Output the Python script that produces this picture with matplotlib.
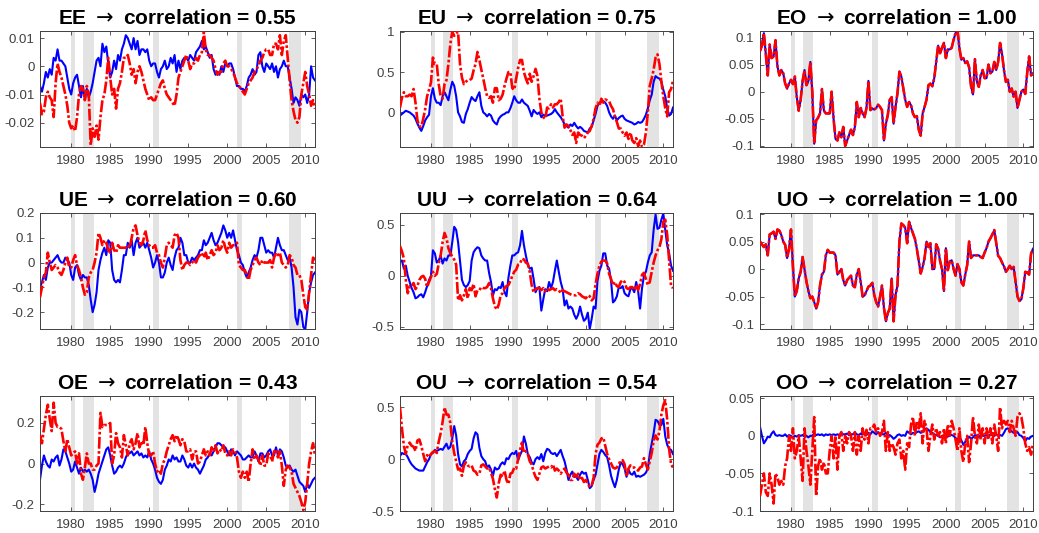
import numpy as np
import matplotlib
matplotlib.use('Agg')
import matplotlib.pyplot as plt

start_year = 1976.0

ee_blue = [
    -0.007, -0.009, -0.006, -0.002,
    -0.004, -0.001, -0.003, 0.003,
    0.002, 0.006, 0.002, 0.002,
    0.001, 0.000, -0.004, -0.008,
    -0.010, -0.006, -0.004, -0.003,
    -0.007, -0.011, -0.007, -0.012,
    -0.008, -0.011, -0.009, -0.006,
    -0.002, 0.002, 0.003, 0.000,
    0.008, 0.005, 0.007, 0.001,
    -0.004, -0.002, 0.002, -0.001,
    0.004, 0.002, 0.006, 0.008,
    0.011, 0.010, 0.008, 0.006,
    0.010, 0.006, 0.009, 0.004,
    0.006, 0.006, 0.005, 0.006,
    0.002, 0.000, 0.001, 0.001,
    -0.002, -0.004, -0.001, 0.000,
    0.002, -0.001, 0.000, 0.003,
    0.001, 0.004, -0.002, 0.002,
    -0.001, 0.002, 0.003, 0.003,
    0.002, 0.004, 0.003, 0.002,
    0.005, 0.006, 0.007, 0.009,
    0.006, 0.007, 0.005, 0.003,
    0.004, -0.001, -0.003, -0.002,
    -0.003, 0.000, -0.002, 0.001,
    0.000, 0.001, 0.001, -0.001,
    -0.004, -0.007, -0.007, -0.008,
    -0.008, -0.009, -0.007, -0.004,
    -0.003, -0.001, -0.003, -0.002,
    0.004, 0.005, 0.000, -0.002,
    0.001, 0.000, -0.001, 0.001,
    -0.002, 0.000, -0.004, -0.001,
    0.000, 0.002, 0.000, 0.000,
    -0.004, -0.008, -0.013, -0.011,
    -0.012, -0.014, -0.010, -0.011,
    -0.010, -0.013, -0.010, 0.000,
    -0.004, -0.005,
]
ee_red = [
    -0.013, -0.017, -0.016, -0.011,
    -0.009, -0.011, -0.012, -0.018,
    -0.006, 0.001, -0.002, -0.004,
    -0.007, -0.010, -0.014, -0.020,
    -0.022, -0.021, -0.023, -0.018,
    -0.010, -0.007, -0.008, -0.012,
    -0.007, -0.010, -0.028, -0.022,
    -0.025, -0.021, -0.026, -0.018,
    -0.012, -0.010, -0.005, 0.003,
    -0.004, -0.010, -0.008, -0.015,
    -0.008, -0.006, -0.002, 0.003,
    0.003, 0.004, 0.001, -0.003,
    -0.001, -0.006, -0.002, 0.000,
    -0.002, -0.005, -0.008, -0.010,
    -0.012, -0.011, -0.012, -0.012,
    -0.010, -0.008, -0.006, -0.005,
    -0.008, -0.010, -0.011, -0.012,
    -0.013, -0.014, -0.010, -0.004,
    -0.002, 0.000, 0.002, 0.004,
    0.002, -0.001, 0.001, 0.001,
    0.003, 0.002, 0.004, 0.005,
    0.012, 0.006, 0.004, 0.004,
    0.003, 0.002, -0.001, -0.003,
    -0.002, -0.002, 0.001, 0.002,
    0.000, 0.000, -0.001, -0.002,
    -0.004, -0.006, -0.007, -0.008,
    -0.009, -0.010, -0.008, -0.006,
    -0.005, -0.004, -0.002, -0.001,
    0.000, 0.002, 0.003, 0.005,
    0.006, 0.006, 0.004, 0.004,
    0.008, 0.008, 0.006, 0.011,
    0.004, 0.009, 0.011, 0.003,
    -0.005, -0.012, -0.016, -0.019,
    -0.020, -0.018, -0.010, -0.006,
    -0.002, -0.007, -0.010, -0.014,
    -0.012, -0.015,
]

eu_blue = [
    -0.04, -0.02, 0.0, 0.02,
    0.01, 0.0, -0.02, -0.04,
    -0.08, -0.14, -0.19, -0.23,
    -0.17, -0.1, -0.06, -0.03,
    0.2, 0.3, 0.17, 0.12,
    0.12, 0.09, 0.2, 0.25,
    0.2, 0.15, 0.28, 0.38,
    0.33, 0.2, 0.0, -0.05,
    -0.12, -0.13, -0.02, 0.04,
    0.12, 0.19, 0.16, 0.14,
    0.2, 0.25, 0.08, 0.0,
    -0.02, -0.05, -0.02, -0.04,
    -0.1, -0.13, -0.15, -0.08,
    -0.05, -0.03, -0.02, 0.0,
    0.0, 0.05, 0.12, 0.2,
    0.15, 0.12, 0.12, 0.16,
    0.12, 0.1, 0.08, 0.02,
    -0.05, 0.03, 0.0, -0.02,
    0.0, -0.06, -0.03, -0.04,
    -0.04, -0.03, -0.02, 0.0,
    0.04, 0.0, -0.03, -0.06,
    -0.1, -0.15, -0.17, -0.19,
    -0.15, -0.17, -0.13, -0.17,
    -0.2, -0.18, -0.2, -0.23,
    -0.24, -0.25, -0.2, -0.18,
    -0.1, -0.02, 0.08, 0.12,
    0.13, 0.14, 0.12, 0.08,
    0.0, -0.05, -0.08, -0.04,
    -0.1, -0.07, -0.05, -0.04,
    -0.08, -0.1, -0.11, -0.12,
    -0.13, -0.15, -0.14, -0.12,
    -0.13, -0.12, -0.08, -0.03,
    0.05, 0.15, 0.22, 0.38,
    0.45, 0.43, 0.42, 0.38,
    0.28, 0.2, 0.05, -0.04,
    -0.02, 0.06,
]
eu_red = [
    0.06, 0.18, 0.25, 0.2,
    0.2, 0.22, 0.2, 0.29,
    0.12, -0.1, -0.17, -0.18,
    -0.08, 0.04, 0.2, 0.28,
    0.37, 0.68, 0.6, 0.6,
    0.35, 0.2, 0.17, 0.35,
    0.4, 0.6, 0.85, 1.0,
    0.95, 0.98, 1.0, 0.6,
    0.43, 0.35, 0.38, 0.4,
    0.4, 0.42, 0.52, 0.6,
    0.75, 0.65, 0.53, 0.42,
    0.3, 0.2, 0.18, 0.2,
    0.12, 0.3, 0.3, 0.15,
    0.17, 0.22, 0.33, 0.42,
    0.5, 0.5, 0.3, 0.28,
    0.42, 0.55, 0.65, 0.65,
    0.5, 0.42, 0.36, 0.48,
    0.38, 0.45, 0.54, 0.45,
    0.17, 0.0, -0.06, -0.08,
    0.06, 0.05, 0.1, 0.06,
    0.1, 0.1, 0.13, 0.17,
    -0.05, -0.19, -0.15, -0.17,
    -0.22, -0.28, -0.25, -0.38,
    -0.25, -0.28, -0.29, -0.32,
    -0.29, -0.25, -0.23, -0.17,
    -0.08, 0.05, 0.12, 0.08,
    0.17, 0.12, 0.16, 0.15,
    0.14, 0.08, 0.04, -0.05,
    -0.12, -0.2, -0.2, -0.25,
    -0.29, -0.25, -0.33, -0.25,
    -0.35, -0.38, -0.32, -0.42,
    -0.35, -0.43, -0.4, -0.25,
    0.0, 0.33, 0.42, 0.53,
    0.68, 0.72, 0.6, 0.38,
    0.2, 0.05, -0.05, 0.25,
    0.29, 0.39,
]

eo_series = [
    0.075, 0.085, 0.108, 0.07,
    0.03, 0.087, 0.062, 0.065,
    0.095, 0.047, 0.03, 0.04,
    0.034, 0.015, 0.006, 0.015,
    0.022, 0.014, 0.028, -0.01,
    -0.035, -0.015, 0.02, 0.04,
    0.012, 0.02, 0.055, 0.0,
    -0.096, -0.053, -0.048, -0.04,
    0.005, -0.035, -0.04, -0.04,
    -0.04, 0.0, -0.05, -0.087,
    -0.09, -0.075, -0.084, -0.065,
    -0.1, -0.09, -0.08, -0.07,
    -0.08, -0.065, -0.019, -0.047,
    -0.03, -0.04, -0.047, -0.03,
    0.02, -0.034, -0.031, -0.033,
    -0.03, -0.024, -0.028, -0.034,
    -0.09, -0.06, -0.043, -0.015,
    -0.01, -0.059, -0.028, -0.003,
    0.037, 0.028, 0.006, -0.015,
    -0.028, -0.019, -0.025, -0.04,
    -0.047, -0.045, -0.07, -0.081,
    -0.04, -0.028, -0.015, 0.012,
    0.015, 0.01, 0.025, 0.055,
    0.085, 0.071, 0.081, 0.09,
    0.062, 0.078, 0.078, 0.081,
    0.096, 0.108, 0.114, 0.08,
    0.059, 0.062, 0.053, 0.056,
    0.045, 0.01, -0.005, 0.06,
    0.019, 0.009, 0.03, 0.04,
    0.025, 0.025, 0.05, 0.034,
    0.037, 0.055, 0.04, 0.055,
    0.09, 0.07, 0.04, 0.018,
    0.022, 0.0, 0.006, -0.009,
    0.0, -0.03, -0.015, 0.0,
    0.004, -0.004, 0.035, 0.065,
    0.03, 0.034,
]

ue_blue = [
    -0.1, -0.08, -0.05, -0.07,
    -0.02, 0.0, 0.0, 0.01,
    0.02, 0.03, 0.01, 0.0,
    0.0, 0.02, 0.01, 0.0,
    -0.05, -0.07, -0.02, -0.01,
    -0.05, -0.07, -0.05, -0.06,
    -0.06, -0.09, -0.15, -0.2,
    -0.17, -0.12, -0.03, 0.01,
    0.04, 0.06, 0.03, 0.09,
    0.08, -0.03, -0.07, -0.08,
    -0.07, -0.08, -0.03, 0.03,
    0.03, 0.08, 0.06, 0.09,
    0.03, 0.08, 0.1, 0.06,
    0.07, 0.08, 0.06, 0.08,
    0.05, 0.02, -0.02, 0.0,
    0.03, 0.0, -0.06, -0.06,
    -0.04, 0.0, 0.02, -0.01,
    -0.03, 0.02, 0.05, 0.06,
    0.1, 0.08, 0.03, 0.03,
    0.0, 0.0, 0.02, 0.01,
    0.02, 0.03, 0.05, 0.05,
    0.09, 0.07, 0.08, 0.1,
    0.12, 0.09, 0.07, 0.08,
    0.1, 0.12, 0.15, 0.13,
    0.1, 0.12, 0.1, 0.13,
    0.09, 0.05, 0.03, 0.0,
    -0.01, -0.04, -0.06, -0.04,
    -0.02, 0.01, 0.03, 0.02,
    0.05, 0.1, 0.1, 0.07,
    0.04, 0.05, 0.04, 0.04,
    0.02, 0.06, 0.1, 0.07,
    0.05, 0.05, 0.03, 0.01,
    0.02, -0.02, -0.1, -0.22,
    -0.25, -0.19, -0.2, -0.26,
    -0.27, -0.2, -0.12, -0.08,
    -0.05, -0.04,
]
ue_red = [
    -0.14, -0.1, -0.06, -0.04,
    0.04, 0.0, -0.03, -0.02,
    -0.01, -0.02, -0.04, -0.05,
    -0.03, 0.0, 0.02, -0.02,
    -0.02, 0.01, 0.03, -0.01,
    -0.03, -0.06, -0.1, -0.13,
    -0.12, -0.06, -0.04, -0.03,
    0.0, 0.04, 0.12, 0.1,
    0.07, 0.09, 0.08, 0.05,
    0.04, 0.08, 0.05, 0.04,
    0.07, 0.06, 0.06, 0.06,
    0.06, 0.07, 0.06, 0.1,
    0.14, 0.15, 0.11, 0.08,
    0.07, 0.09, 0.13, 0.09,
    0.07, 0.06, 0.06, 0.07,
    0.04, 0.03, 0.0, -0.02,
    0.02, 0.07, 0.08, 0.07,
    0.06, 0.11, 0.12, 0.1,
    0.01, -0.03, -0.01, 0.0,
    0.0, -0.01, 0.0, 0.01,
    0.0, 0.02, 0.03, 0.04,
    0.02, 0.04, 0.01, 0.03,
    0.05, 0.03, 0.04, 0.07,
    0.05, 0.06, 0.09, 0.06,
    0.04, 0.08, 0.06, 0.07,
    0.07, 0.08, -0.01, -0.02,
    -0.03, -0.03, -0.05, -0.07,
    -0.03, -0.01, 0.01, 0.02,
    0.0, -0.01, 0.01, 0.0,
    0.0, 0.0, 0.01, -0.02,
    0.02, 0.04, 0.03, 0.04,
    0.0, -0.01, -0.02, -0.01,
    0.03, 0.02, -0.01, -0.02,
    -0.05, -0.05, -0.07, -0.13,
    -0.18, -0.19, -0.12, -0.05,
    0.02, 0.01,
]

uu_blue = [
    0.14, 0.15, 0.07, 0.1,
    0.0, -0.06, -0.12, -0.16,
    -0.22, -0.21, -0.19, -0.18,
    -0.21, -0.16, -0.1, -0.04,
    0.0, 0.25, 0.22, 0.13,
    0.15, 0.2, 0.12, 0.17,
    0.15, 0.2, 0.2, 0.33,
    0.48, 0.45, 0.33, 0.15,
    -0.04, -0.09, -0.11, -0.09,
    -0.05, 0.15, 0.23, 0.26,
    0.28, 0.27, 0.2, 0.17,
    0.15, 0.15, 0.03, -0.06,
    -0.19, -0.13, -0.14, -0.11,
    -0.12, -0.06, -0.16, -0.2,
    -0.02, 0.1, 0.2, 0.2,
    0.22, 0.23, 0.3, 0.44,
    0.3, 0.2, 0.11, 0.07,
    0.08, -0.03, -0.16, -0.12,
    -0.11, -0.34, -0.23, -0.13,
    -0.15, -0.06, -0.12, -0.06,
    0.05, 0.15, 0.04, -0.06,
    -0.13, -0.29, -0.24, -0.32,
    -0.3, -0.32, -0.38, -0.42,
    -0.38, -0.3, -0.38, -0.44,
    -0.42, -0.36, -0.52, -0.42,
    -0.3, -0.32, -0.05, 0.05,
    0.1, 0.22, 0.22, 0.1,
    0.07, -0.05, -0.26, -0.24,
    -0.2, -0.11, -0.12, -0.1,
    -0.17, -0.19, -0.2, -0.13,
    -0.12, -0.16, -0.06, -0.15,
    -0.32, -0.12, 0.0, 0.04,
    0.13, 0.2, 0.23, 0.45,
    0.6, 0.46, 0.47, 0.55,
    0.61, 0.45, 0.3, 0.22,
    0.1, 0.05,
]
uu_red = [
    0.29, 0.24, 0.17, -0.04,
    -0.17, -0.1, -0.1, -0.07,
    -0.13, -0.1, -0.04, -0.01,
    0.0, -0.03, -0.11, -0.06,
    -0.01, 0.04, 0.0, 0.02,
    0.12, 0.2, 0.33, 0.42,
    0.37, 0.27, 0.22, 0.19,
    0.16, 0.11, -0.24, -0.19,
    -0.24, -0.19, -0.13, -0.22,
    -0.12, -0.14, -0.08, -0.2,
    -0.14, -0.14, -0.11, -0.12,
    -0.12, -0.11, -0.07, -0.12,
    -0.22, -0.3, -0.33, -0.28,
    -0.19, -0.17, -0.12, -0.1,
    -0.09, -0.05, 0.0, 0.04,
    0.06, 0.11, 0.12, 0.17,
    0.16, 0.13, 0.12, 0.04,
    -0.09, -0.16, -0.13, -0.12,
    -0.12, -0.14, -0.12, -0.15,
    -0.12, -0.14, -0.13, -0.12,
    -0.14, -0.13, -0.14, -0.17,
    -0.14, -0.15, -0.16, -0.17,
    -0.18, -0.19, -0.19, -0.19,
    -0.17, -0.18, -0.2, -0.21,
    -0.22, -0.19, -0.2, -0.24,
    -0.22, -0.08, 0.02, 0.1,
    0.14, 0.15, 0.15, 0.12,
    0.02, -0.03, -0.09, -0.06,
    -0.1, -0.11, -0.06, -0.04,
    -0.06, -0.12, -0.13, -0.11,
    -0.11, -0.14, -0.09, -0.14,
    -0.08, 0.01, 0.03, -0.03,
    -0.09, -0.06, 0.04, 0.13,
    0.2, 0.25, 0.28, 0.36,
    0.53, 0.55, 0.4, 0.15,
    -0.1, -0.12,
]

uo_series = [
    0.05, 0.045, 0.04, 0.045,
    0.025, 0.063, 0.065, 0.068,
    0.055, 0.072, 0.07, 0.062,
    0.05, 0.044, 0.02, 0.037,
    0.072, 0.005, -0.05, -0.04,
    -0.017, -0.005, 0.022, 0.0,
    -0.023, -0.04, -0.053, -0.05,
    -0.06, -0.072, -0.06, -0.03,
    -0.01, -0.005, 0.025, 0.035,
    0.03, 0.03, 0.03, 0.025,
    -0.01, -0.005, 0.0, -0.02,
    -0.03, -0.02, -0.016, -0.012,
    -0.03, -0.033, -0.01, 0.0,
    -0.023, -0.05, -0.048, -0.04,
    -0.032, -0.03, -0.025, -0.047,
    -0.06, -0.068, -0.05, -0.03,
    -0.07, -0.095, -0.08, -0.072,
    -0.017, -0.095, -0.047, -0.03,
    0.05, 0.083, 0.08, 0.075,
    0.047, 0.086, 0.075, 0.065,
    0.055, 0.037, 0.015, -0.008,
    0.004, 0.02, 0.05, 0.04,
    0.047, 0.0, 0.0, 0.045,
    0.037, 0.015, 0.0, -0.04,
    0.038, -0.002, 0.014, 0.016,
    0.0, -0.012, 0.009, 0.0,
    -0.024, -0.03, -0.01, 0.007,
    0.05, 0.02, 0.025, 0.025,
    0.025, 0.025, 0.022, 0.02,
    0.03, 0.038, 0.05, 0.056,
    0.063, 0.071, 0.048, 0.024,
    0.02, 0.012, 0.005, -0.005,
    0.0, 0.006, 0.0, 0.004,
    -0.023, -0.05, -0.058, -0.055,
    -0.035, -0.005, -0.006, -0.01,
    0.028, 0.037,
]

oe_blue = [
    -0.08, -0.01, 0.04, 0.01,
    -0.01, -0.02, 0.02, 0.01,
    0.03, 0.04, -0.01, 0.02,
    0.07, 0.06, 0.03, 0.0,
    -0.04, -0.03, 0.01, -0.02,
    -0.05, -0.02, -0.04, -0.03,
    -0.04, -0.03, -0.05, -0.08,
    -0.14, -0.1, -0.05, -0.02,
    0.01, 0.04, 0.07, 0.08,
    0.04, -0.01, -0.05, -0.04,
    -0.02, -0.01, -0.02, 0.0,
    0.03, 0.05, 0.05, 0.06,
    0.04, 0.05, 0.06, 0.04,
    0.05, 0.03, 0.04, 0.03,
    0.06, 0.02, 0.0, -0.03,
    -0.07, -0.09, -0.1, -0.08,
    -0.03, -0.01, 0.02, 0.01,
    0.04, 0.02, 0.03, 0.01,
    0.01, 0.04, 0.02, -0.01,
    -0.02, 0.0, -0.02, 0.0,
    -0.02, -0.03, -0.05, -0.03,
    -0.01, 0.02, 0.03, 0.05,
    0.04, 0.06, 0.08, 0.1,
    0.1, 0.09, 0.08, 0.08,
    0.06, 0.04, 0.07, 0.06,
    0.04, 0.06, 0.05, 0.04,
    0.02, 0.02, 0.03, 0.04,
    0.03, 0.03, 0.06, 0.04,
    0.01, 0.05, 0.05, 0.03,
    0.04, 0.06, 0.07, 0.04,
    0.04, 0.08, 0.04, 0.07,
    0.06, 0.03, -0.01, -0.02,
    -0.01, -0.03, -0.04, -0.03,
    -0.06, -0.09, -0.1, -0.11,
    -0.14, -0.1, -0.12, -0.1,
    -0.08, -0.07,
]
oe_red = [
    0.14, 0.1, 0.17, 0.24,
    0.29, 0.22, 0.16, 0.3,
    0.2, 0.18, 0.18, 0.17,
    0.11, 0.06, 0.12, 0.08,
    0.04, 0.05, 0.06, 0.0,
    0.05, -0.05, -0.08, -0.02,
    0.05, 0.0, 0.0, -0.03,
    -0.03, -0.01, 0.0, 0.25,
    0.18, 0.19, 0.19, 0.19,
    0.2, 0.0, 0.04, 0.15,
    0.1, 0.08, 0.03, 0.14,
    0.09, 0.04, 0.1, 0.12,
    0.07, 0.1, 0.15, 0.08,
    0.11, 0.09, 0.18, 0.1,
    0.04, 0.04, 0.06, 0.0,
    -0.04, -0.03, -0.05, 0.0,
    0.02, 0.06, 0.09, 0.12,
    0.14, 0.11, 0.14, 0.12,
    0.09, 0.12, 0.11, 0.06,
    0.06, 0.07, 0.02, 0.06,
    0.06, 0.0, 0.01, 0.04,
    0.07, 0.04, 0.06, 0.04,
    0.08, 0.06, 0.09, 0.05,
    0.07, 0.06, 0.09, 0.05,
    0.04, 0.06, 0.04, 0.07,
    0.06, 0.03, -0.04, -0.07,
    -0.04, -0.07, -0.04, -0.09,
    0.0, 0.07, 0.02, 0.04,
    0.02, -0.01, 0.04, -0.01,
    -0.01, 0.05, 0.04, 0.01,
    0.06, 0.07, 0.03, 0.06,
    -0.01, -0.11, -0.03, -0.01,
    -0.02, -0.04, -0.1, -0.12,
    -0.14, -0.16, -0.19, -0.23,
    -0.19, -0.1, 0.0, 0.06,
    0.1, 0.04,
]

ou_blue = [
    0.03, 0.06, 0.05, 0.05,
    0.02, -0.02, -0.05, -0.07,
    -0.09, -0.1, -0.11, -0.11,
    -0.11, -0.07, -0.03, 0.0,
    0.05, 0.06, 0.09, 0.08,
    0.09, 0.1, 0.09, 0.12,
    0.15, 0.1, 0.12, 0.2,
    0.32, 0.23, 0.05, -0.05,
    -0.07, -0.02, 0.0, 0.05,
    0.08, 0.1, 0.2, 0.26,
    0.24, 0.11, 0.03, 0.0,
    -0.02, -0.08, -0.06, -0.1,
    -0.16, -0.08, -0.1, -0.09,
    -0.05, -0.03, -0.05, 0.01,
    0.0, 0.04, 0.06, 0.05,
    0.08, -0.01, 0.04, 0.08,
    0.22, 0.15, 0.05, 0.02,
    -0.03, -0.05, 0.0, 0.02,
    0.0, 0.05, -0.02, 0.06,
    0.1, 0.09, 0.06, 0.05,
    0.06, 0.03, 0.06, 0.09,
    0.03, -0.02, -0.1, -0.2,
    -0.15, -0.12, -0.17, -0.17,
    -0.2, -0.15, -0.12, -0.14,
    -0.13, -0.2, -0.28, -0.26,
    -0.2, -0.15, -0.05, 0.05,
    0.09, 0.07, 0.04, 0.02,
    -0.06, -0.16, -0.22, -0.27,
    -0.2, -0.1, -0.03, -0.05,
    -0.09, -0.17, -0.1, -0.14,
    -0.15, -0.12, -0.17, -0.16,
    -0.17, -0.16, -0.15, -0.13,
    -0.09, 0.05, 0.15, 0.25,
    0.38, 0.37, 0.33, 0.33,
    0.39, 0.22, 0.14, 0.1,
    0.09, 0.05,
]
ou_red = [
    0.5, 0.3, 0.13, 0.05,
    0.14, 0.16, 0.13, 0.12,
    0.08, 0.18, 0.19, 0.13,
    0.05, -0.02, 0.04, 0.02,
    0.05, 0.07, 0.08, 0.06,
    0.17, 0.25, 0.36, 0.5,
    0.43, 0.43, 0.35, 0.17,
    0.06, -0.02, -0.1, -0.09,
    -0.16, -0.06, -0.03, -0.06,
    -0.07, -0.06, -0.11, -0.12,
    -0.15, -0.14, -0.06, -0.05,
    -0.07, -0.09, -0.08, -0.13,
    -0.19, -0.29, -0.37, -0.23,
    -0.15, -0.17, -0.11, -0.2,
    -0.24, -0.14, -0.13, -0.08,
    -0.09, 0.0, 0.09, 0.16,
    0.06, 0.08, 0.05, -0.02,
    -0.05, -0.12, -0.17, -0.2,
    -0.14, -0.08, -0.07, -0.09,
    -0.08, -0.07, -0.08, -0.05,
    -0.11, -0.09, -0.11, -0.14,
    -0.11, -0.09, -0.13, -0.15,
    -0.2, -0.2, -0.14, -0.17,
    -0.14, -0.2, -0.18, -0.22,
    -0.2, -0.24, -0.27, -0.25,
    -0.18, 0.05, 0.14, 0.16,
    0.2, 0.21, 0.13, 0.05,
    0.0, -0.04, -0.08, -0.09,
    -0.08, -0.05, -0.01, -0.01,
    -0.05, -0.17, -0.09, -0.06,
    -0.08, -0.08, -0.1, -0.11,
    -0.08, -0.07, 0.01, -0.05,
    -0.1, -0.02, 0.06, 0.18,
    0.23, 0.19, 0.27, 0.43,
    0.52, 0.57, 0.38, 0.1,
    -0.05, -0.08,
]

oo_blue = [
    0.012, 0.0, -0.01, -0.006,
    -0.001, -0.002, 0.003, 0.006,
    0.001, 0.0, 0.001, 0.0,
    0.0, 0.002, -0.001, 0.001,
    0.0, -0.002, 0.0, -0.001,
    0.001, 0.0, 0.001, -0.001,
    0.0, -0.002, 0.0, 0.0,
    0.003, 0.001, 0.002, 0.001,
    0.002, 0.0, 0.002, 0.001,
    0.002, 0.001, 0.002, 0.001,
    0.002, 0.001, 0.003, 0.002,
    0.002, 0.003, 0.001, 0.002,
    0.002, 0.004, 0.002, 0.001,
    0.003, 0.002, 0.004, 0.001,
    0.004, 0.002, 0.006, 0.004,
    0.002, 0.005, 0.003, 0.002,
    0.002, 0.004, 0.0, 0.001,
    -0.001, -0.004, -0.002, 0.001,
    0.002, 0.0, 0.001, 0.0,
    0.006, 0.004, 0.002, 0.004,
    0.003, 0.005, 0.006, 0.004,
    0.005, 0.008, 0.01, 0.008,
    0.005, 0.004, 0.002, 0.001,
    0.0, -0.002, -0.001, 0.001,
    0.0, -0.001, 0.002, 0.001,
    0.0, -0.003, -0.005, -0.002,
    -0.006, -0.012, -0.008, -0.004,
    -0.001, -0.004, -0.002, 0.001,
    0.0, -0.002, 0.001, 0.0,
    0.0, 0.001, -0.001, 0.002,
    0.001, 0.0, 0.002, 0.0,
    0.001, 0.0, 0.004, 0.009,
    0.01, 0.008, 0.006, 0.004,
    0.004, 0.005, 0.001, 0.0,
    -0.003, -0.007, -0.003, -0.004,
    -0.001, 0.0,
]
oo_red = [
    -0.08, -0.065, -0.05, -0.075,
    -0.08, -0.05, -0.065, -0.09,
    -0.05, -0.055, -0.065, -0.06,
    -0.065, -0.04, -0.03, 0.0,
    -0.02, 0.01, -0.03, -0.02,
    0.0, -0.03, -0.06, 0.01,
    -0.02, -0.04, -0.065, -0.02,
    0.025, -0.08, -0.04, -0.03,
    -0.045, -0.035, -0.05, -0.05,
    -0.02, 0.0, -0.03, 0.0,
    -0.045, 0.0, 0.005, -0.02,
    0.0, -0.01, 0.005, 0.0,
    -0.02, 0.005, -0.025, 0.0,
    -0.02, 0.01, -0.005, 0.008,
    -0.01, 0.01, 0.01, 0.015,
    0.005, 0.01, 0.0, 0.005,
    0.02, -0.02, 0.005, -0.02,
    -0.01, -0.015, -0.025, -0.01,
    -0.005, -0.03, -0.02, -0.045,
    -0.01, -0.015, 0.015, 0.025,
    0.0, 0.02, 0.01, 0.03,
    -0.01, 0.02, 0.01, -0.02,
    0.0, 0.015, -0.005, 0.01,
    0.0, 0.005, -0.01, 0.01,
    -0.01, 0.015, 0.0, 0.02,
    0.01, -0.005, -0.02, 0.01,
    -0.02, -0.035, -0.01, 0.0,
    -0.035, -0.01, 0.025, 0.0,
    -0.01, 0.015, -0.005, 0.01,
    -0.01, 0.01, -0.005, 0.01,
    -0.01, 0.015, 0.0, -0.02,
    0.038, 0.01, 0.02, 0.015,
    0.02, 0.005, 0.02, 0.01,
    0.0, 0.025, 0.03, 0.025,
    0.01, -0.01, -0.02, -0.015,
    -0.025, -0.01,
]

# recession periods (shaded)
rec_start = [1980.0, 1981.5, 1990.5, 2001.2, 2007.9]
rec_end = [1980.5, 1982.9, 1991.2, 2001.9, 2009.5]

names = ['EE', 'EU', 'EO', 'UE', 'UU', 'UO', 'OE', 'OU', 'OO']
corrs = ['0.55', '0.75', '1.00', '0.60', '0.64', '1.00', '0.43', '0.54', '0.27']
blues = [ee_blue, eu_blue, eo_series, ue_blue, uu_blue, uo_series, oe_blue, ou_blue, oo_blue]
reds = [ee_red, eu_red, eo_series, ue_red, uu_red, uo_series, oe_red, ou_red, oo_red]

ylims = [(-0.0286, 0.0125), (-0.43, 1.01), (-0.102, 0.112),
         (-0.268, 0.2), (-0.52, 0.615), (-0.109, 0.102),
         (-0.234, 0.333), (-0.5, 0.61), (-0.1, 0.053)]
yticks = [[-0.02, -0.01, 0, 0.01], [0, 0.5, 1], [-0.1, -0.05, 0, 0.05, 0.1],
          [-0.2, -0.1, 0, 0.1, 0.2], [-0.5, 0, 0.5], [-0.1, -0.05, 0, 0.05, 0.1],
          [-0.2, 0, 0.2], [-0.5, 0, 0.5], [-0.1, -0.05, 0, 0.05]]

plt.rcParams['font.family'] = ['Liberation Sans', 'DejaVu Sans']
plt.rcParams['axes.unicode_minus'] = False

W, H = 1039, 533
fig = plt.figure(figsize=(W / 100, H / 100), dpi=100)

col_left = [40, 400, 760]
col_w = [275, 273, 273]
row_top = [31, 213, 396]
row_h = [116, 116, 115]

for i in range(9):
    r, c = divmod(i, 3)
    ax = fig.add_axes([col_left[c] / W, 1 - (row_top[r] + row_h[r]) / H,
                       col_w[c] / W, row_h[r] / H])
    for a, b in zip(rec_start, rec_end):
        ax.axvspan(a, b, color='#e3e3e3', lw=0, zorder=0)
    yb = np.array(blues[i])
    yr = np.array(reds[i])
    ax.plot(start_year + 0.25 * np.arange(len(yb)), yb, color='#0000ff', lw=1.5, zorder=2)
    ax.plot(start_year + 0.25 * np.arange(len(yr)), yr, color='#ff0000', lw=1.9,
            dashes=(4.5, 0.9, 1.0, 0.9), zorder=3)
    ax.set_xlim(1976, 2011.25)
    ax.set_ylim(*ylims[i])
    ax.set_xticks([1980, 1985, 1990, 1995, 2000, 2005, 2010])
    ax.set_yticks(yticks[i])
    ax.set_yticklabels(['%g' % v for v in yticks[i]])
    ax.tick_params(direction='in', top=True, right=True, length=3, width=0.6,
                   labelsize=9.5, colors='#404040', pad=4)
    ax.tick_params(axis='x', pad=6)
    for s in ax.spines.values():
        s.set_linewidth(0.7)
        s.set_color('#404040')
    ax.set_title(names[i] + r' $\rightarrow$ correlation = ' + corrs[i],
                 fontsize=15, fontweight='bold', pad=5)

fig.savefig('out.png', dpi=100)
